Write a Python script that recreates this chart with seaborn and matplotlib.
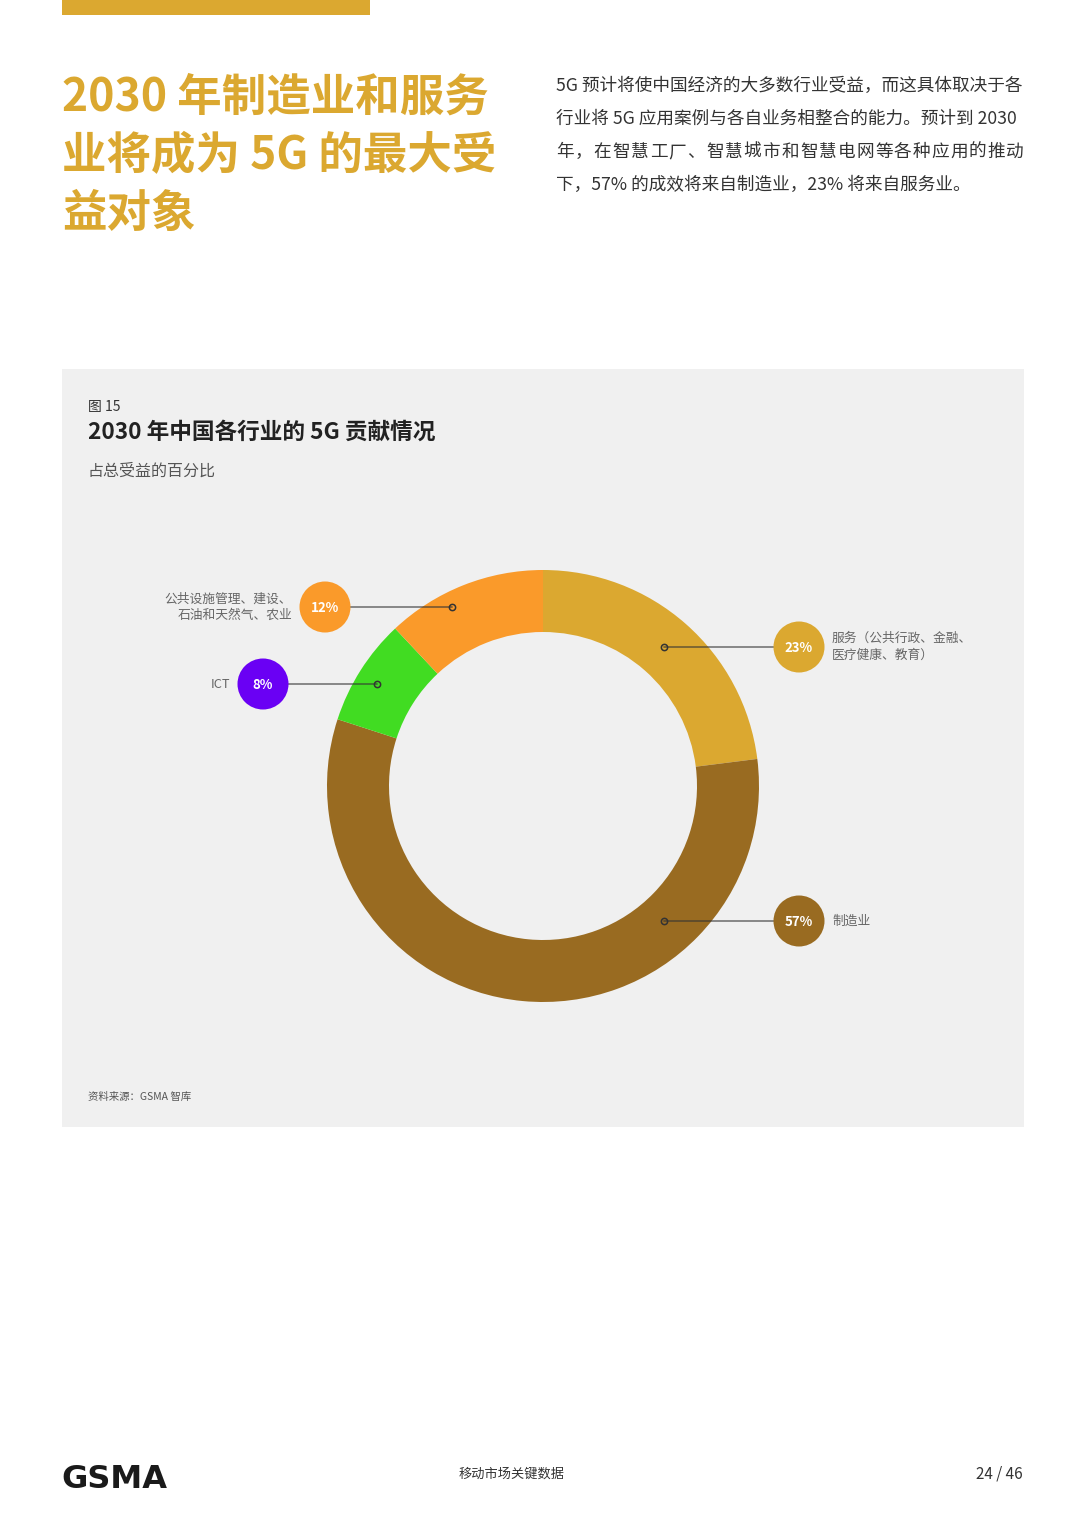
import matplotlib
matplotlib.use("Agg")
import matplotlib.pyplot as plt
import seaborn as sns
from matplotlib.patches import Rectangle, Circle

# ---------------- data ----------------
categories = ["服务（公共行政、金融、\n医疗健康、教育）", "制造业", "ICT",
              "公共设施管理、建设、\n石油和天然气、农业"]
shares = [23, 57, 8, 12]
slice_colors = ["#DBA830", "#996B21", "#41DC22", "#FA9A2A"]
badge_colors = ["#DBA830", "#996B21", "#6A00F4", "#FA9A2A"]

title_lines = ["2030 年制造业和服务", "业将成为 5G 的最大受", "益对象"]
para_lines = ["5G 预计将使中国经济的大多数行业受益，而这具体取决于各",
              "行业将 5G 应用案例与各自业务相整合的能力。预计到 2030",
              "年，在智慧工厂、智慧城市和智慧电网等各种应用的推动",
              "下，57% 的成效将来自制造业，23% 将来自服务业。"]
fig_label = "图 15"
chart_title = "2030 年中国各行业的 5G 贡献情况"
chart_subtitle = "占总受益的百分比"
source = "资料来源：GSMA 智库"
footer_mid = "移动市场关键数据"
footer_page = "24 / 46"

# ---------------- style ----------------
sns.set_theme(style="white")
plt.rcParams["font.family"] = ["Noto Sans CJK SC", "DejaVu Sans"]

W, H = 1086, 1536
fig = plt.figure(figsize=(W / 100, H / 100), dpi=100)
fig.patch.set_facecolor("white")

# background page axes (pixel coords)
bg = fig.add_axes([0, 0, 1, 1])
bg.set_xlim(0, W)
bg.set_ylim(H, 0)
bg.axis("off")
bg.add_patch(Rectangle((62, 0), 308, 15, color="#DBA830", lw=0))
bg.add_patch(Rectangle((62, 369), 962, 758, color="#F0F0F0", lw=0))

# donut axes
cx, cy, half = 543, 786, 220
dax = fig.add_axes([(cx - half) / W, 1 - (cy + half) / H, 2 * half / W, 2 * half / H])
dax.set_facecolor("none")
R = 216 / half
ring = (216 - 154) / half
dax.pie(shares, colors=slice_colors, startangle=90, counterclock=False,
        radius=R, wedgeprops=dict(width=ring, linewidth=0))
dax.set_xlim(-1, 1)
dax.set_ylim(-1, 1)
dax.set_aspect("auto")
dax.axis("off")

# overlay axes for text & annotations
ov = fig.add_axes([0, 0, 1, 1])
ov.set_facecolor("none")
ov.set_xlim(0, W)
ov.set_ylim(H, 0)
ov.axis("off")

gold = "#DBA830"
# title
for i, t in enumerate(title_lines):
    ov.text(62, 98 + i * 58, t, fontsize=32, fontweight="bold", color=gold,
            ha="left", va="center")

# paragraph
para_x0, para_x1 = 556, 1024
for i, t in enumerate(para_lines):
    y = 86 + i * 33
    if i == 2:
        n = len(t)
        step = (para_x1 - para_x0 - 17.7) / (n - 1)
        for k, ch in enumerate(t):
            ov.text(para_x0 + k * step, y, ch, fontsize=12.7, color="#333333",
                    ha="left", va="center")
    else:
        ov.text(para_x0, y, t, fontsize=12.7, color="#333333", ha="left", va="center")

# chart header
ov.text(88, 407, fig_label, fontsize=10, color="#333333", ha="left", va="center")
ov.text(88, 432, chart_title, fontsize=16.3, fontweight="bold", color="#222222",
        ha="left", va="center")
ov.text(88, 471, chart_subtitle, fontsize=11.5, color="#555555", ha="left", va="center")

# annotations: (badge x, y, dot x, label side)
anno = [(799, 647, 664, "right"),
        (799, 921, 664, "right"),
        (263, 684, 377, "left"),
        (325, 607, 452, "left")]
for (bx, by, dx, side), cat, v, bc in zip(anno, categories, shares, badge_colors):
    ov.plot([bx, dx], [by, by], color="#333333", alpha=0.6, lw=1.3, zorder=3)
    ov.plot([dx], [by], marker="o", ms=4.5, mfc="none", mec="#333333", mew=1.1, zorder=4)
    ov.add_patch(Circle((bx, by), 25.5, color=bc, lw=0, zorder=5))
    ov.text(bx, by + 1, f"{v}%", fontsize=9.5, fontweight="bold", color="white",
            ha="center", va="center", zorder=6)
    if side == "right":
        ov.text(bx + 33, by, cat, fontsize=9.2, color="#666666", ha="left", va="center",
                linespacing=1.35)
    else:
        ov.text(bx - 33, by, cat, fontsize=9.2, color="#666666", ha="right", va="center",
                linespacing=1.35, multialignment="right")

# source
ov.text(88, 1097, source, fontsize=7.5, color="#555555", ha="left", va="center")

# footer
ov.text(61, 1479, "GSMA", fontsize=23, fontweight="bold", color="#1a1a1a",
        family=["DejaVu Sans"], ha="left", va="center")
ov.text(512, 1474, footer_mid, fontsize=9.5, color="#333333", ha="center", va="center")
ov.text(1023, 1474, footer_page, fontsize=11, color="#333333", ha="right", va="center")

fig.savefig("out.png", dpi=100, facecolor="white")
